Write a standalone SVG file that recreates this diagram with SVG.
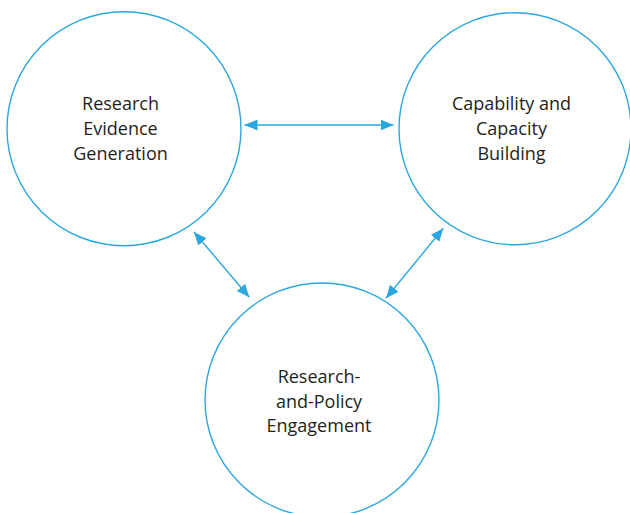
<svg xmlns="http://www.w3.org/2000/svg" width="630" height="513" viewBox="0 0 630 513">
  <defs>
    <marker id="arrow" viewBox="0 0 13 11" refX="13" refY="5.5" markerWidth="13" markerHeight="11" markerUnits="userSpaceOnUse" orient="auto-start-reverse">
      <path d="M0,0 L13,5.5 L0,11 Z" fill="#2aa7df"/>
    </marker>
  </defs>
  <style>
    .node circle { fill: #ffffff; stroke: #2aa7df; stroke-width: 1.4; }
    .node text { font-family: "Open Sans", "Noto Sans", "Liberation Sans", sans-serif; font-size: 18px; fill: #231f20; text-anchor: middle; }
    .connectors line { stroke: #2aa7df; stroke-width: 1.4; marker-start: url(#arrow); marker-end: url(#arrow); }
  </style>
  <rect width="630" height="513" fill="#ffffff"/>

  <g id="node-research-evidence" class="node">
    <circle cx="124" cy="128.7" r="117"/>
    <text x="120.5" y="110">Research</text>
    <text x="120.5" y="135">Evidence</text>
    <text x="120.5" y="160">Generation</text>
  </g>

  <g id="node-capability" class="node">
    <circle cx="515" cy="128.7" r="116"/>
    <text x="511.5" y="110">Capability and</text>
    <text x="511.5" y="135">Capacity</text>
    <text x="511.5" y="160">Building</text>
  </g>

  <g id="node-engagement" class="node">
    <circle cx="322" cy="400" r="117"/>
    <text x="319" y="383">Research-</text>
    <text x="319" y="407.5">and-Policy</text>
    <text x="319" y="432">Engagement</text>
  </g>

  <g id="connectors" class="connectors">
    <line x1="244.5" y1="125" x2="393.5" y2="125"/>
    <line x1="194" y1="232" x2="249.3" y2="297.3"/>
    <line x1="443.3" y1="228.3" x2="386" y2="298.3"/>
  </g>
</svg>
